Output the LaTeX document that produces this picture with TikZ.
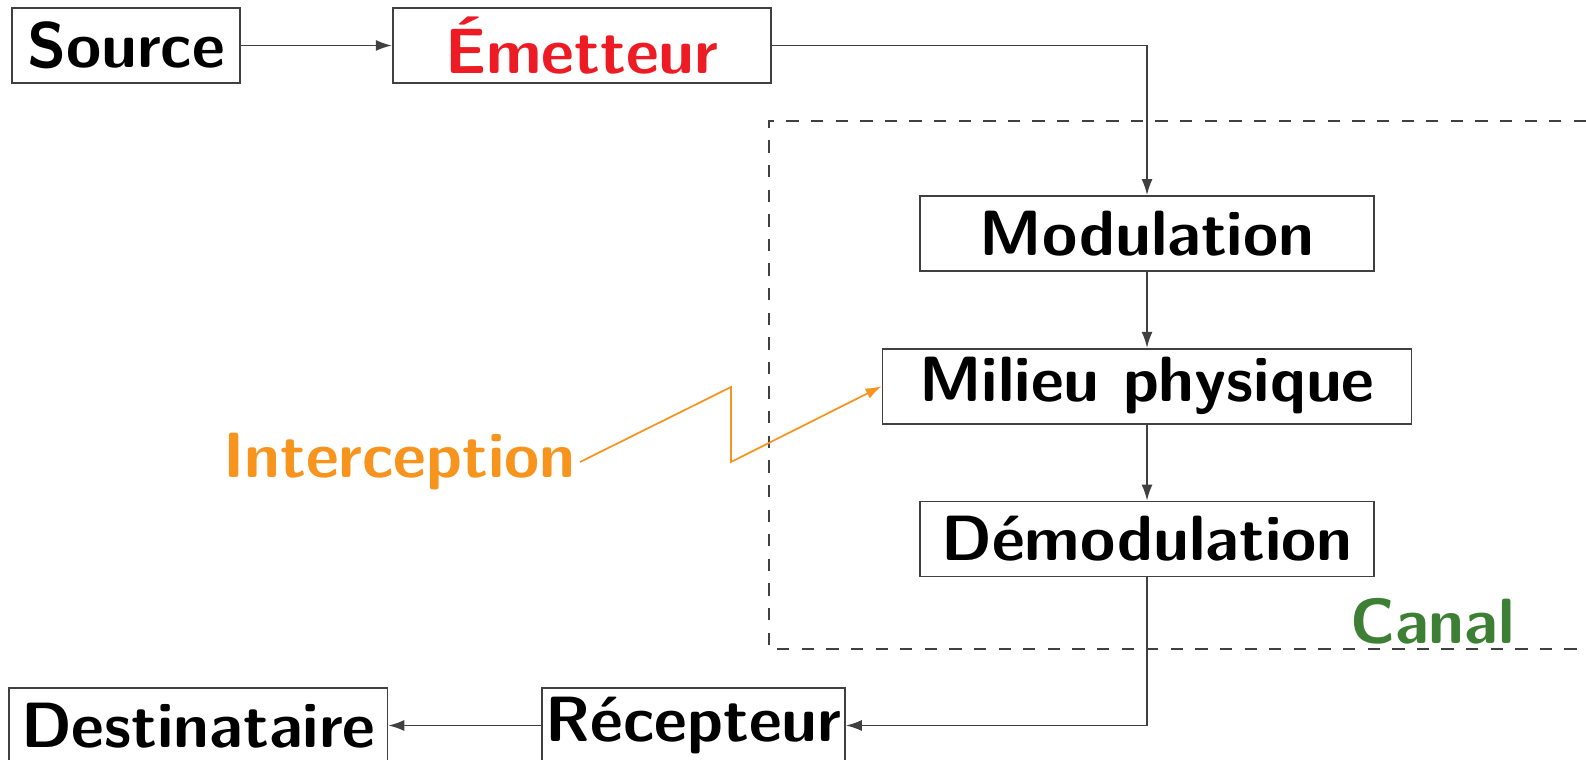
\documentclass[tikz,border=0pt]{standalone}
\usepackage{fontspec}
\usetikzlibrary{arrows.meta, positioning}

\definecolor{rouge}{HTML}{ED1C24}
\definecolor{orange}{HTML}{F7941D}
\definecolor{vert}{HTML}{3D8035}

\begin{document}
\begin{tikzpicture}[
  node distance=0.76cm and 1.51cm,
  font=\fontsize{18.2}{21}\selectfont\sffamily\bfseries,
  bloc/.style={rectangle, draw=black!75, line width=0.5pt,
               minimum height=0.75cm, inner sep=1pt, align=center},
  arr/.style={-{Latex[length=1.6mm, width=1.1mm]}, draw=black!75, line width=0.5pt}
]
  \useasboundingbox (0,0) rectangle (15.86,-7.60);

  \node[bloc, minimum width=2.28cm] (source) at (1.26,-0.455) {Source};
  \node[bloc, minimum width=3.78cm, right=of source, text=rouge] (emetteur) {Émetteur};

  \node[bloc, minimum width=4.54cm] (modulation) at (11.47,-2.335) {Modulation};
  \node[bloc, minimum width=5.29cm, below=of modulation] (milieu) {Milieu physique};
  \node[bloc, minimum width=4.54cm, below=of milieu] (demod) {Démodulation};

  \node[bloc, minimum width=3.01cm] (recepteur) at (6.935,-7.255) {Récepteur};
  \node[bloc, minimum width=3.78cm, left=1.53cm of recepteur] (destinataire) {Destinataire};

  % Canal (dashed frame, open on the right)
  \draw[black!75, line width=0.5pt, dash pattern=on 3.5pt off 3.5pt]
    (15.86,-1.21) -- (7.69,-1.21) -- (7.69,-6.49) -- (15.86,-6.49);
  \node[text=vert, anchor=base east] (canal) at (15.27,-6.43) {Canal};

  \draw[arr] (source) -- (emetteur);
  \draw[arr] (emetteur.east) -| (modulation.north);
  \draw[arr] (modulation) -- (milieu);
  \draw[arr] (milieu) -- (demod);
  \draw[arr] (demod.south) |- (recepteur.east);
  \draw[arr] (recepteur) -- (destinataire);

  % Interception
  \node[text=orange, anchor=east, inner sep=1pt] (interception) at (5.80,-4.62) {Interception};
  \draw[orange, line width=0.5pt, -{Latex[length=1.6mm, width=1.1mm]}]
    (interception.east) -- ++(1.51,0.75) -- ++(0,-0.75) -- (milieu.west);
\end{tikzpicture}
\end{document}
